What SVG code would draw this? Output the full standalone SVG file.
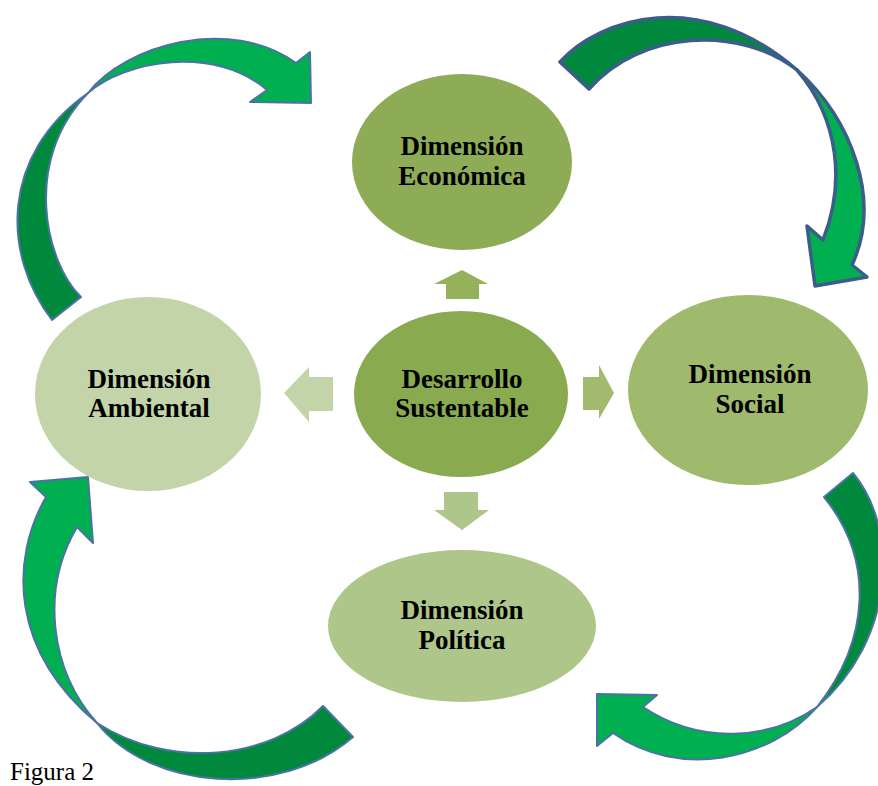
<svg xmlns="http://www.w3.org/2000/svg" width="878" height="786" viewBox="0 0 878 786">
<style>
.lbl{font-family:"Liberation Serif","Times New Roman",serif;font-weight:bold;font-size:27px;fill:#000;text-anchor:middle}
.dk{fill:#00893d}
.br{fill:#00b050}
.ol{stroke:#4a72a4;stroke-width:2;stroke-linejoin:round}
.ol2{stroke:#3a5d8a;stroke-width:3.5;stroke-linejoin:round}
</style>
<rect width="878" height="786" fill="#fff"/>
<g id="connectors">
  <g id="curved-top-left" class="ol">
    <path class="dk" d="M52,320 C2,255 0,155 88,93 C22,160 45,262 81,297 Z"/>
    <path class="br" d="M88,93 C125,45 230,15 296,63 L310,52 L311,103 L250,102 L267,90 C215,45 125,60 88,93 Z"/>
  </g>
  <g id="curved-top-right" class="ol2">
    <path class="dk" d="M560,62 C600,18 700,-14 797,70 C740,25 640,30 589,89 Z"/>
    <path class="br" d="M797,70 C852,120 882,200 852,265 L867,277 L815,286 L807,226 L823,240 C845,185 840,120 797,70 Z"/>
  </g>
  <g id="curved-bottom-right" class="ol">
    <path class="dk" d="M853,473 C900,530 895,640 817,707 C870,640 875,560 824,497 Z"/>
    <path class="br" d="M817,707 C770,760 680,780 613,733 L597,746 L597,694 L657,695 L643,707 C700,745 770,740 817,707 Z"/>
  </g>
  <g id="curved-bottom-left" class="ol">
    <path class="br" d="M46,497 C10,560 10,650 97,723 C50,670 40,590 77,527 L93,543 L88,477 L30,482 Z"/>
    <path class="dk" d="M97,723 C150,790 280,800 353,737 L323,706 C270,760 170,770 97,723 Z"/>
  </g>
  <polygon id="arrow-up" fill="#95b25a" points="462,270 488,284 479,284 479,299 446,299 446,284 434,284"/>
  <polygon id="arrow-left" fill="#c3d4a8" points="284,393 309,367 309,377 333,377 333,411 309,411 309,422"/>
  <polygon id="arrow-right" fill="#a2bb6e" points="614,393 599,365 599,377 583,377 583,410 599,410 599,419"/>
  <polygon id="arrow-down" fill="#aec68a" points="462,530 489,510 478,510 478,492 444,492 444,510 434,510"/>
</g>
<g id="node-economica">
  <ellipse cx="462" cy="162" rx="110" ry="88" fill="#8eab55"/>
  <text class="lbl" x="462" y="155">Dimensión</text>
  <text class="lbl" x="462" y="185">Económica</text>
</g>
<g id="node-ambiental">
  <ellipse cx="148" cy="394" rx="113" ry="97" fill="#c3d4a8"/>
  <text class="lbl" x="149" y="388">Dimensión</text>
  <text class="lbl" x="149" y="417">Ambiental</text>
</g>
<g id="node-sustentable">
  <ellipse cx="461" cy="394" rx="107" ry="83" fill="#8aaa50"/>
  <text class="lbl" x="462" y="388">Desarrollo</text>
  <text class="lbl" x="462" y="417">Sustentable</text>
</g>
<g id="node-social">
  <ellipse cx="748" cy="390" rx="120" ry="95" fill="#9fb96d"/>
  <text class="lbl" x="750" y="383">Dimensión</text>
  <text class="lbl" x="750" y="413">Social</text>
</g>
<g id="node-politica">
  <ellipse cx="462" cy="626" rx="134" ry="76" fill="#aec68a"/>
  <text class="lbl" x="462" y="619">Dimensión</text>
  <text class="lbl" x="462" y="649">Política</text>
</g>
<text x="10" y="780" font-family="Liberation Serif, Times New Roman, serif" font-size="25" fill="#000">Figura 2</text>
</svg>
